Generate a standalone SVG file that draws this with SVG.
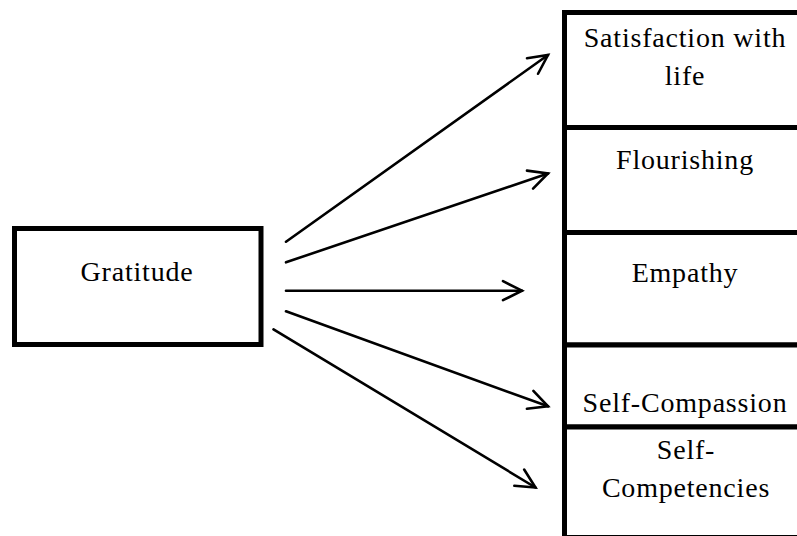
<svg xmlns="http://www.w3.org/2000/svg" width="797" height="536" viewBox="0 0 797 536">
<style>
.box{fill:#fff;stroke:#000;stroke-width:5}
.lbl{font-family:'Liberation Serif','DejaVu Serif',serif;font-size:28px;letter-spacing:0.8px;fill:#000;text-anchor:middle}
.arr{fill:none;stroke:#000;stroke-width:2.6;stroke-linecap:round}
</style>
<defs>
<marker id="ah" markerUnits="userSpaceOnUse" markerWidth="30" markerHeight="30" viewBox="-25 -15 30 30" refX="0" refY="0" orient="auto">
<path d="M-19,-9.5 L0,0 L-19,9.5" fill="none" stroke="#000" stroke-width="2.6" stroke-linecap="round" stroke-linejoin="miter"/>
</marker>
</defs>
<rect width="797" height="536" fill="#fff"/>
<g id="gratitude">
<rect class="box" x="14.5" y="228.5" width="246.5" height="116"/>
<text class="lbl" x="137" y="281">Gratitude</text>
</g>
<g id="satisfaction">
<rect class="box" x="564.5" y="12.5" width="250" height="115"/>
<text class="lbl" x="685" y="47">Satisfaction with</text>
<text class="lbl" x="685" y="85">life</text>
</g>
<g id="flourishing">
<rect class="box" x="564.5" y="127.5" width="250" height="105"/>
<text class="lbl" x="685" y="169">Flourishing</text>
</g>
<g id="empathy">
<rect class="box" x="564.5" y="232.5" width="250" height="112.5"/>
<text class="lbl" x="685" y="281.5">Empathy</text>
</g>
<g id="selfcompassion">
<rect class="box" x="564.5" y="345" width="250" height="82"/>
<text class="lbl" x="685" y="411.5">Self-Compassion</text>
</g>
<g id="selfcompetencies">
<rect class="box" x="564.5" y="427" width="250" height="110.5"/>
<text class="lbl" x="686" y="459">Self-</text>
<text class="lbl" x="686" y="496.5">Competencies</text>
</g>
<g id="connectors">
<line class="arr" x1="286" y1="241.7" x2="548" y2="55" marker-end="url(#ah)"/>
<line class="arr" x1="286" y1="262.3" x2="548" y2="173.5" marker-end="url(#ah)"/>
<line class="arr" x1="286" y1="290.7" x2="522" y2="290.7" marker-end="url(#ah)"/>
<line class="arr" x1="286" y1="311.3" x2="548" y2="406.3" marker-end="url(#ah)"/>
<line class="arr" x1="273.5" y1="329.3" x2="535.5" y2="487.5" marker-end="url(#ah)"/>
</g>
</svg>
